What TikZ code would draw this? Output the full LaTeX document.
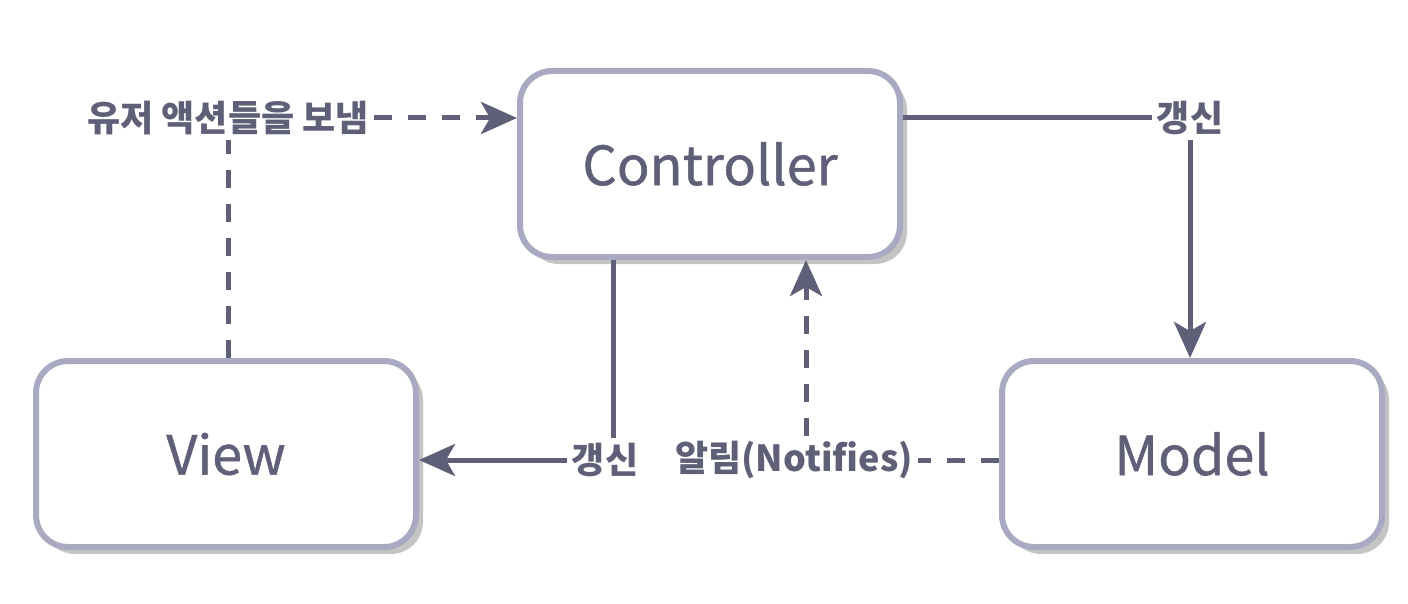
\documentclass[tikz,border=0pt]{standalone}
\usepackage{fontspec}
\setmainfont{Noto Sans CJK KR}
\newfontfamily\boxfont{Noto Sans CJK KR}[FakeBold=0.8]
\usetikzlibrary{arrows.meta,shadows}
\definecolor{ink}{HTML}{5F6078}
\definecolor{rim}{HTML}{A9AAC2}
\definecolor{shade}{HTML}{C4C4C4}
\begin{document}
\begin{tikzpicture}[x=1pt,y=-1pt,
 box/.style={draw=rim,line width=6pt,rounded corners=32pt,fill=white,minimum width=380pt,minimum height=186pt,
  text=ink,font=\boxfont\fontsize{54}{60}\selectfont,
  drop shadow={shadow xshift=7pt,shadow yshift=-7pt,fill=shade,opacity=1}},
 lbl/.style={text=ink,font=\bfseries\fontsize{36}{40}\selectfont,inner sep=5pt},
 wire/.style={draw=ink,line width=5pt},
 dashwire/.style={wire,dash pattern=on 18pt off 16pt},
 arrowtip/.style={-{Stealth[length=36pt,width=32pt,inset=9pt]}}]
\useasboundingbox (0,0) rectangle (1408,604);
\node [box] (ctrl) at (710,164) {Controller};
\node [box] (view) at (226,454) {View};
\node [box] (model) at (1192,454) {Model};
\node [lbl] (send) at (228,118) {유저 액션들을 보냄};
\node [lbl] (updm) at (1190,118) {갱신};
\node [lbl] (updv) at (605,460) {갱신};
\node [lbl] (note) at (794,460) {알림(Notifies)};
\draw [dashwire] (view.north -| send) -- (send.south);
\draw [dashwire,arrowtip] (send.east) -- (ctrl.west |- send);
\draw [wire] (ctrl.east |- updm) -- (updm.west);
\draw [wire,arrowtip] (updm.south) -- (updm |- model.north);
\draw [wire] ([xshift=-97pt]ctrl.south) -- ([xshift=-97pt]ctrl.south |- updv.north);
\draw [wire,arrowtip] (updv.west) -- (view.east |- updv);
\draw [dashwire] (model.west |- note) -- (note.east);
\draw [dashwire,arrowtip] ([xshift=96pt]ctrl.south |- note.north) -- ([xshift=96pt]ctrl.south);
\end{tikzpicture}
\end{document}
